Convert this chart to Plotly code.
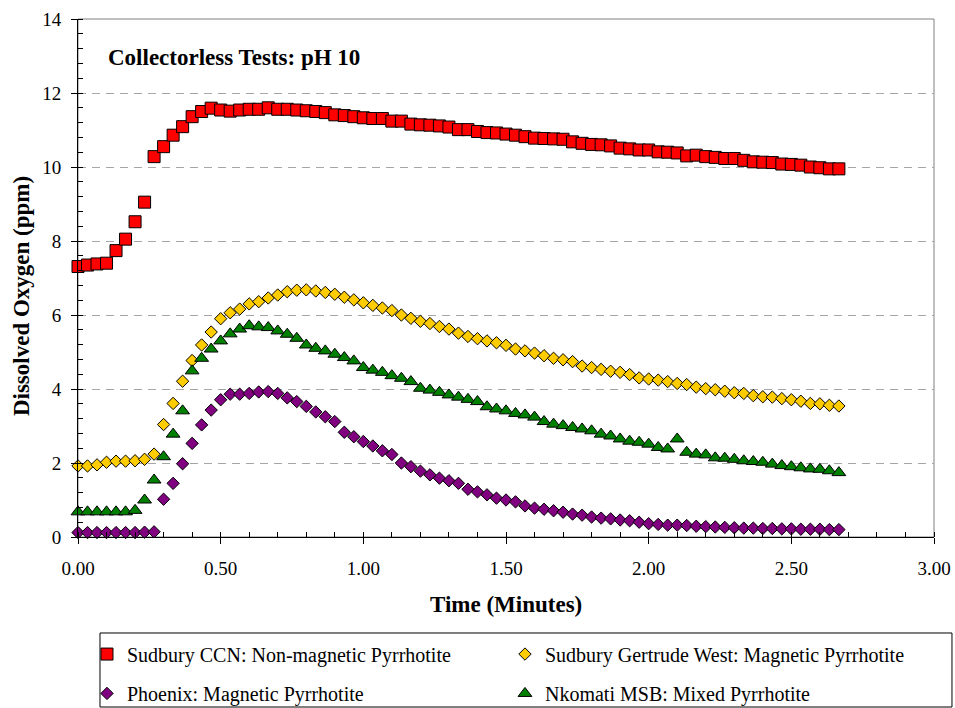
import plotly.graph_objects as go

# Sampling times (seconds) for the dissolved-oxygen probe, converted to minutes below
time_s = [0, 2, 4, 6, 8, 10, 12, 14, 16, 18, 20, 22, 24, 26, 28, 30, 32, 34, 36, 38,
          40, 42, 44, 46, 48, 50, 52, 54, 56, 58, 60, 62, 64, 66, 68, 70, 72, 74, 76, 78,
          80, 82, 84, 86, 88, 90, 92, 94, 96, 98, 100, 102, 104, 106, 108, 110, 112, 114, 116, 118,
          120, 122, 124, 126, 128, 130, 132, 134, 136, 138, 140, 142, 144, 146, 148, 150, 152, 154, 156, 158,
          160]
time_min = [t / 60.0 for t in time_s]

# Dissolved oxygen (ppm) per sample
sudbury_ccn = [7.31, 7.35, 7.38, 7.40, 7.74, 8.05, 8.52, 9.05, 10.28, 10.55,
               10.86, 11.09, 11.36, 11.50, 11.59, 11.54, 11.51, 11.54, 11.56, 11.56,
               11.60, 11.56, 11.56, 11.54, 11.52, 11.50, 11.47, 11.41, 11.39, 11.36,
               11.33, 11.31, 11.31, 11.24, 11.24, 11.16, 11.14, 11.13, 11.11, 11.08,
               11.01, 11.01, 10.96, 10.93, 10.92, 10.89, 10.86, 10.82, 10.78, 10.77,
               10.76, 10.75, 10.68, 10.64, 10.61, 10.60, 10.57, 10.51, 10.49, 10.46,
               10.46, 10.41, 10.40, 10.38, 10.30, 10.32, 10.28, 10.26, 10.23, 10.23,
               10.18, 10.14, 10.13, 10.12, 10.08, 10.07, 10.05, 10.00, 9.98, 9.95,
               9.95]

gertrude_west = [1.92, 1.92, 1.95, 2.02, 2.05, 2.05, 2.06, 2.10, 2.24, 3.04,
                 3.61, 4.21, 4.77, 5.19, 5.54, 5.90, 6.06, 6.16, 6.30, 6.36,
                 6.46, 6.54, 6.63, 6.67, 6.68, 6.65, 6.61, 6.56, 6.48, 6.41,
                 6.33, 6.26, 6.19, 6.12, 6.00, 5.91, 5.83, 5.77, 5.69, 5.62,
                 5.51, 5.42, 5.36, 5.30, 5.25, 5.18, 5.08, 5.03, 4.97, 4.90,
                 4.83, 4.79, 4.74, 4.62, 4.58, 4.53, 4.48, 4.45, 4.39, 4.30,
                 4.27, 4.24, 4.20, 4.15, 4.12, 4.05, 4.01, 3.98, 3.94, 3.90,
                 3.88, 3.82, 3.79, 3.78, 3.74, 3.71, 3.67, 3.61, 3.60, 3.56,
                 3.54]

phoenix = [0.12, 0.12, 0.12, 0.12, 0.12, 0.12, 0.12, 0.13, 0.14, 1.02,
           1.45, 1.98, 2.53, 3.03, 3.43, 3.71, 3.86, 3.86, 3.88, 3.92,
           3.93, 3.88, 3.76, 3.66, 3.53, 3.38, 3.25, 3.12, 2.83, 2.71,
           2.58, 2.46, 2.33, 2.23, 2.00, 1.90, 1.78, 1.68, 1.59, 1.52,
           1.45, 1.29, 1.22, 1.14, 1.05, 1.00, 0.95, 0.84, 0.78, 0.75,
           0.71, 0.67, 0.62, 0.59, 0.54, 0.51, 0.49, 0.46, 0.44, 0.40,
           0.36, 0.34, 0.32, 0.32, 0.31, 0.29, 0.28, 0.27, 0.26, 0.25,
           0.24, 0.24, 0.23, 0.23, 0.22, 0.22, 0.21, 0.21, 0.21, 0.20,
           0.20]

nkomati = [0.68, 0.68, 0.68, 0.68, 0.68, 0.68, 0.72, 1.00, 1.54, 2.17,
           2.78, 3.41, 4.49, 4.83, 5.08, 5.30, 5.49, 5.62, 5.71, 5.68,
           5.66, 5.57, 5.48, 5.37, 5.19, 5.10, 5.03, 4.94, 4.85, 4.76,
           4.58, 4.51, 4.45, 4.36, 4.29, 4.20, 4.02, 3.97, 3.91, 3.84,
           3.78, 3.72, 3.66, 3.52, 3.46, 3.41, 3.34, 3.30, 3.24, 3.12,
           3.05, 3.01, 2.96, 2.92, 2.87, 2.78, 2.73, 2.65, 2.59, 2.56,
           2.51, 2.42, 2.38, 2.65, 2.29, 2.24, 2.22, 2.14, 2.13, 2.10,
           2.06, 2.04, 2.02, 1.97, 1.93, 1.90, 1.87, 1.84, 1.83, 1.79,
           1.74]

series_names = [
    "Sudbury CCN: Non-magnetic Pyrrhotite",
    "Sudbury Gertrude West: Magnetic Pyrrhotite",
    "Phoenix: Magnetic Pyrrhotite",
    "Nkomati MSB: Mixed Pyrrhotite",
]
series_values = [sudbury_ccn, gertrude_west, phoenix, nkomati]
series_colors = ["#FF0000", "#FFCC00", "#800080", "#008000"]
series_symbols = ["square", "diamond", "diamond", "triangle-up"]
series_sizes = [12, 9.5, 9.5, 12]
# two legend rows, two entries per row
series_legend = ["legend", "legend", "legend2", "legend2"]

x_ticks = [0.0, 0.5, 1.0, 1.5, 2.0, 2.5, 3.0]
y_ticks = [0, 2, 4, 6, 8, 10, 12, 14]

FONT = "Times New Roman, Liberation Serif, Tinos, DejaVu Serif, serif"

fig = go.Figure()
for name, vals, col, sym, sz, lg in zip(series_names, series_values, series_colors,
                                         series_symbols, series_sizes, series_legend):
    fig.add_trace(go.Scatter(
        x=time_min, y=vals, name=name, mode="markers",
        marker=dict(symbol=sym, size=sz, color=col,
                    line=dict(color="black", width=1)),
        cliponaxis=False, legend=lg,
    ))

legend_row = dict(
    orientation="h", x=0.0105, xanchor="left", yanchor="middle",
    entrywidth=373, entrywidthmode="pixels",
    borderwidth=0, bgcolor="rgba(0,0,0,0)",
    font=dict(family=FONT, size=20, color="black"),
    traceorder="normal",
)

fig.update_layout(
    width=955, height=708,
    margin=dict(l=78, r=21, t=19, b=171, autoexpand=False),
    paper_bgcolor="white", plot_bgcolor="white",
    font=dict(family=FONT, color="black", size=19),
    showlegend=True,
    legend=dict(legend_row, y=-0.226),
    legend2=dict(legend_row, y=-0.302),
    xaxis=dict(
        range=[0, 3], tickvals=x_ticks, tickformat=".2f",
        showgrid=False, zeroline=False, automargin=False,
        showline=True, linecolor="black", linewidth=1,
        ticks="outside", ticklen=6, tickcolor="black",
        ticklabelstandoff=8,
        tickfont=dict(family=FONT, size=19),
        minor=dict(dtick=0.1, ticks="inside", ticklen=5, tickcolor="black", showgrid=False),
    ),
    yaxis=dict(
        range=[0, 14], tickvals=y_ticks,
        showgrid=True, gridcolor="#A6A6A6", gridwidth=1, griddash="8px,6px",
        zeroline=False, automargin=False,
        showline=True, linecolor="black", linewidth=1,
        ticks="outside", ticklen=6, tickcolor="black",
        ticklabelstandoff=6,
        tickfont=dict(family=FONT, size=19),
        minor=dict(dtick=0.4, ticks="inside", ticklen=5, tickcolor="black", showgrid=False),
    ),
    shapes=[
        # plot-area frame
        dict(type="rect", xref="x domain", yref="y domain",
             x0=0, x1=1, y0=0, y1=1,
             line=dict(color="#808080", width=1), layer="below"),
        # legend frame
        dict(type="rect", xref="paper", yref="paper",
             x0=0.0257, x1=1.021, y0=-0.1853, y1=-0.3282,
             line=dict(color="black", width=1), fillcolor="rgba(0,0,0,0)"),
    ],
    annotations=[
        dict(text="<b>Collectorless Tests: pH 10</b>", xref="paper", yref="paper",
             x=0.0327, y=0.925, xanchor="left", yanchor="middle", showarrow=False,
             font=dict(family=FONT, size=23)),
        dict(text="<b>Dissolved Oxygen (ppm)</b>", xref="paper", yref="paper",
             x=-0.0666, y=0.465, xanchor="center", yanchor="middle", showarrow=False,
             textangle=-90, font=dict(family=FONT, size=23)),
        dict(text="<b>Time (Minutes)</b>", xref="paper", yref="paper",
             x=0.5, y=-0.131, xanchor="center", yanchor="middle", showarrow=False,
             font=dict(family=FONT, size=23)),
    ],
)

fig.write_html("out.html")
